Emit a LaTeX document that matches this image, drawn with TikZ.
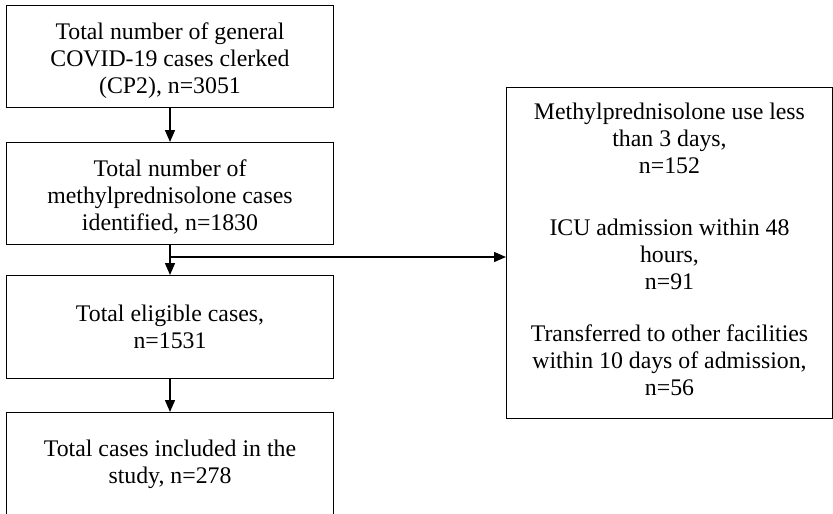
\documentclass[tikz,border=0pt]{standalone}
\usepackage{fontspec}
\setmainfont{Liberation Serif}
\usetikzlibrary{arrows.meta}
\begin{document}
\begin{tikzpicture}[x=1pt,y=-1pt,
  flowbox/.style={draw=black, line width=1pt, minimum width=327pt, inner sep=0pt,
    align=center, font=\fontsize{23.8}{27}\selectfont, anchor=north west},
  conn/.style={line width=1.4pt, -{Triangle[length=12pt,width=10pt]}}]
\useasboundingbox (0,0) rectangle (833,514);
\node[flowbox, minimum height=102pt] (b1) at (6,5) {\rule{0pt}{26pt}Total number of general\\COVID-19 cases clerked\\(CP2), n=3051};
\node[flowbox, minimum height=102pt] (b2) at (6,142) {\rule{0pt}{24pt}Total number of\\methylprednisolone cases\\identified, n=1830};
\node[flowbox, minimum height=103pt] (b3) at (6,275) {Total eligible cases,\\n=1531};
\node[flowbox, minimum height=104pt] (b4) at (6,412) {Total cases included in the\\study, n=278};
\node[flowbox, minimum width=326pt, minimum height=331pt] (rb) at (506,87)
  {Methylprednisolone use less\\than 3 days,\\n=152\\[35pt]ICU admission within 48\\hours,\\n=91\\[25pt]Transferred to other facilities\\within 10 days of admission,\\n=56\rule[-8pt]{0pt}{8pt}};
\coordinate (br) at (169.5,257);
\draw[conn] (b1.south) -- (b2.north);
\draw[conn] (b2.south) -- (b3.north);
\draw[conn] (br) -- (rb.west |- br);
\draw[conn] (b3.south) -- (b4.north);
\end{tikzpicture}
\end{document}
